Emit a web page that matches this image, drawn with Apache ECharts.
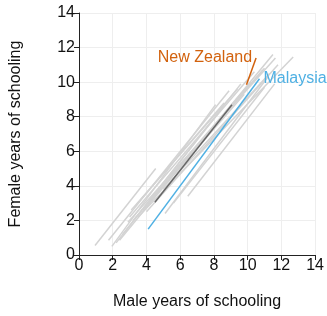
<!DOCTYPE html>
<html>
<head>
<meta charset="UTF-8">
<title>Schooling</title>
<script src="https://cdn.jsdelivr.net/npm/echarts@6/dist/echarts.min.js"></script>
<style>
  body { margin: 0; }
  #main { width: 327px; height: 316px; }
</style>
</head>
<body>
<div id="main"></div>
<script>
// grey country trajectories: start (x0, y0) -> end (x1, y1)
var greyX0 = [0.95, 1.75, 1.95, 2.2, 2.4, 2.9, 3.2, 3.5, 4.0, 5.1, 6.45, 3.0, 4.2, 3.8, 5.0, 3.4, 2.6, 4.6, 5.6, 3.1];
var greyY0 = [0.55, 0.85, 0.5, 0.7, 0.85, 1.9, 2.0, 2.2, 2.5, 2.4, 3.4, 2.2, 3.2, 2.6, 3.8, 2.9, 1.2, 3.6, 3.0, 2.6];
var greyX1 = [4.55, 8.9, 8.1, 8.5, 11.5, 11.65, 11.0, 12.7, 11.8, 11.2, 11.6, 10.4, 10.2, 9.8, 11.3, 8.6, 9.6, 10.9, 11.0, 9.4];
var greyY1 = [5.0, 9.5, 8.7, 8.5, 11.6, 11.4, 10.8, 11.45, 11.0, 10.3, 9.9, 10.6, 10.0, 9.3, 10.5, 8.8, 9.9, 10.7, 9.7, 9.6];

var darkLine = [[4.5, 3.05], [9.07, 8.69]];
var malaysia = [[4.1, 1.5], [10.7, 10.2]];
var newZealand = [[9.93, 9.85], [10.5, 11.4]];

var ticks = [0, 2, 4, 6, 8, 10, 12, 14];

var series = [];
for (var i = 0; i < greyX0.length; i++) {
  series.push({
    type: "line",
    data: [[greyX0[i], greyY0[i]], [greyX1[i], greyY1[i]]],
    showSymbol: false,
    silent: true,
    lineStyle: { color: "#d3d3d3", width: 1.5 }
  });
}
series.push({
  type: "line",
  data: darkLine,
  showSymbol: false,
  lineStyle: { color: "#666666", width: 1.5 }
});
series.push({
  type: "line",
  name: "Malaysia",
  data: malaysia,
  showSymbol: false,
  lineStyle: { color: "#4fb0e3", width: 1.5 },
  endLabel: {
    show: true,
    formatter: "Malaysia",
    color: "#4fb0e3",
    fontSize: 16,
    fontFamily: "Liberation Sans",
    distance: 4
  }
});
series.push({
  type: "line",
  name: "New Zealand",
  data: newZealand,
  showSymbol: false,
  lineStyle: { color: "#d2620e", width: 1.5 },
  markPoint: {
    symbol: "circle",
    symbolSize: 0,
    data: [{ coord: newZealand[1] }],
    label: {
      show: true,
      position: "left",
      distance: 4,
      formatter: "New Zealand",
      color: "#d2620e",
      fontSize: 16,
      fontFamily: "Liberation Sans"
    }
  }
});

var chart = echarts.init(document.getElementById("main"));
chart.setOption({
  animation: false,
  grid: { left: 77, right: 9, top: 13, bottom: 61, containLabel: false },
  xAxis: {
    type: "value",
    min: 0, max: 14, interval: 2,
    name: "Male years of schooling",
    nameLocation: "middle",
    nameGap: 39,
    nameTextStyle: { fontSize: 16, color: "#111", fontFamily: "Liberation Sans" },
    axisLine: { show: true, lineStyle: { color: "#222" } },
    axisTick: { show: true, length: 5, lineStyle: { color: "#222" } },
    axisLabel: {
      fontSize: 16, color: "#111", fontFamily: "Liberation Sans", margin: 3,
      formatter: function (v) { return ticks.indexOf(v) >= 0 ? String(v) : ""; }
    },
    splitLine: { show: true, lineStyle: { color: "#eeeeee" } }
  },
  yAxis: {
    type: "value",
    min: 0, max: 14, interval: 2,
    name: "Female years of schooling",
    nameLocation: "middle",
    nameGap: 55,
    nameTextStyle: { fontSize: 16, color: "#111", fontFamily: "Liberation Sans" },
    axisLine: { show: true, lineStyle: { color: "#222" } },
    axisTick: { show: true, length: 5, lineStyle: { color: "#222" } },
    axisLabel: {
      fontSize: 16, color: "#111", fontFamily: "Liberation Sans", margin: 4,
      formatter: function (v) { return ticks.indexOf(v) >= 0 ? String(v) : ""; }
    },
    splitLine: { show: true, lineStyle: { color: "#eeeeee" } }
  },
  series: series
});
</script>
</body>
</html>
